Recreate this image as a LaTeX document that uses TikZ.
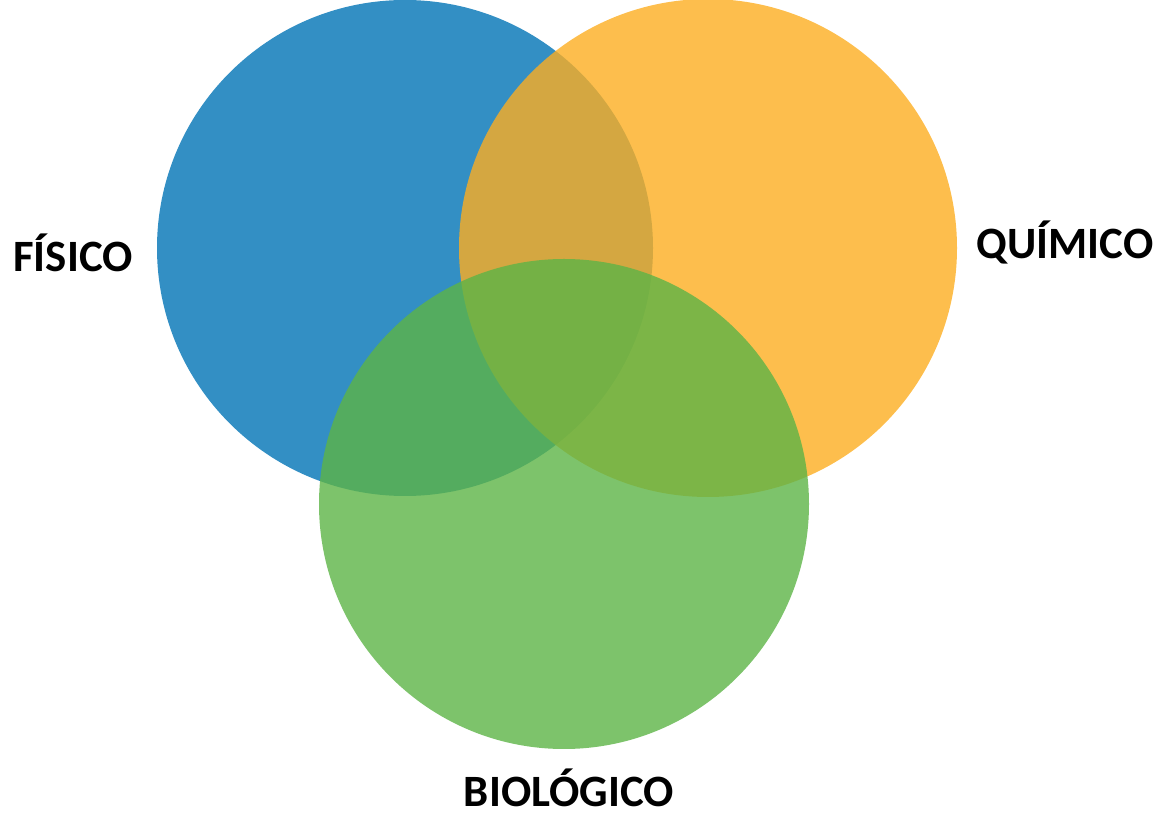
\documentclass[tikz,border=0pt]{standalone}
\usepackage{fontspec}
\setmainfont{Carlito}
\usepackage{tikz}
\usetikzlibrary{positioning, shapes}
\definecolor{setblue}{HTML}{338FC4}
\definecolor{setorange}{HTML}{FDAE21}
\definecolor{setgreen}{HTML}{5DB446}

\begin{document}
\begin{tikzpicture}[
					      set/.style = {circle, inner sep = 0pt, outer sep = 0pt, minimum size = 9.92cm},
					      tag/.style = {anchor = base, inner sep = 0pt, font = \fontsize{25.5}{30}\selectfont\bfseries},
				      ]
				      \useasboundingbox (0,0) rectangle (23.4,-16.32);

				      \node[set, fill = setblue](FIS) at (8.10,-4.96){};
				      \node[set, fill = setorange, fill opacity = 0.8, minimum size = 9.96cm](QUI) at (14.16,-4.96){};
				      \node[set, fill = setgreen, fill opacity = 0.8, minimum size = 9.80cm](BIO) at (11.28,-10.08){};

				      \node[tag](LFIS) at (1.46,-5.44){FÍSICO};
				      \node[tag](LQUI) at (21.30,-5.18){QUÍMICO};
				      \node[tag](LBIO) at (11.38,-16.14){BIOLÓGICO};
			      \end{tikzpicture}
\end{document}
